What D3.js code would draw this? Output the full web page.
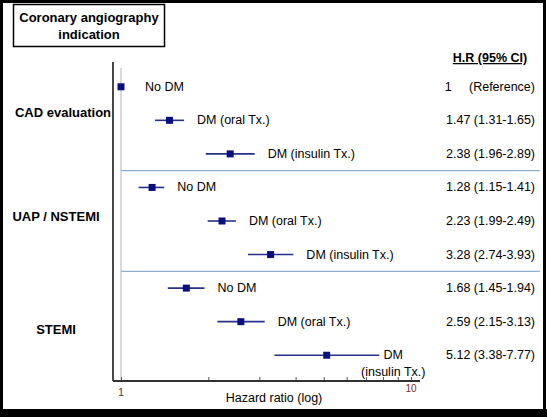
<!DOCTYPE html>
<html>
<head>
<meta charset="utf-8">
<script src="https://cdn.jsdelivr.net/npm/d3@7"></script>
<style>
  body { margin: 0; background: #fff; }
  text { font-family: "Liberation Sans", Arial, sans-serif; }
</style>
</head>
<body>
<svg id="chart" width="547" height="417"></svg>
<script>
// indication groups and the three rows inside each one
const indications = ["CAD evaluation", "UAP / NSTEMI", "STEMI"];
const rowNames = ["No DM", "DM (oral Tx.)", "DM (insulin Tx.)",
  "No DM", "DM (oral Tx.)", "DM (insulin Tx.)",
  "No DM", "DM (oral Tx.)", "DM (insulin Tx.)"];
const hr = [1, 1.47, 2.38, 1.28, 2.23, 3.28, 1.68, 2.59, 5.12];
const ciLow = [1, 1.31, 1.96, 1.15, 1.99, 2.74, 1.45, 2.15, 3.38];
const ciHigh = [1, 1.65, 2.89, 1.41, 2.49, 3.93, 1.94, 3.13, 7.77];
const hrText = ["1     (Reference)", "1.47 (1.31-1.65)", "2.38 (1.96-2.89)",
  "1.28 (1.15-1.41)", "2.23 (1.99-2.49)", "3.28 (2.74-3.93)",
  "1.68 (1.45-1.94)", "2.59 (2.15-3.13)", "5.12 (3.38-7.77)"];
const xTicks = [1, 10];

const svg = d3.select("svg#chart");

// outer frame
svg.append("rect")
    .attr("x", 1.5).attr("y", 1.5)
    .attr("width", 543).attr("height", 410)
    .attr("fill", "none")
    .attr("stroke", "#000")
    .attr("stroke-width", 3);
svg.append("rect")
    .attr("x", 0).attr("y", 409)
    .attr("width", 547).attr("height", 8)
    .attr("fill", "#000");

// title box
svg.append("rect")
    .attr("x", 13.5).attr("y", 4.5)
    .attr("width", 151).attr("height", 42)
    .attr("fill", "#fff")
    .attr("stroke", "#000")
    .attr("stroke-width", 1.5);
svg.append("text")
    .attr("x", 89).attr("y", 22)
    .attr("text-anchor", "middle")
    .attr("font-size", 13).attr("font-weight", "bold")
    .text("Coronary angiography");
svg.append("text")
    .attr("x", 89).attr("y", 39)
    .attr("text-anchor", "middle")
    .attr("font-size", 13).attr("font-weight", "bold")
    .text("indication");

const xScale = d3.scaleLog().domain([1, 10]).range([121, 411]);
const yScale = d3.scaleBand()
    .domain(d3.range(hr.length))
    .range([70, 372]);
const yMid = (i) => yScale(i) + yScale.bandwidth() / 2;

// reference line at HR = 1
svg.append("line")
    .attr("x1", xScale(1)).attr("x2", xScale(1))
    .attr("y1", 68).attr("y2", 381)
    .attr("stroke", "#c8ccd4")
    .attr("stroke-width", 1.5);

// group separators
[3, 6].forEach((i) => {
  svg.append("line")
      .attr("x1", xScale(1)).attr("x2", 540)
      .attr("y1", yScale(i)).attr("y2", yScale(i))
      .attr("stroke", "#8eaed4")
      .attr("stroke-width", 1.2);
});

// axes
svg.append("line")
    .attr("x1", 113).attr("x2", 113)
    .attr("y1", 62).attr("y2", 381)
    .attr("stroke", "#333")
    .attr("stroke-width", 1.8);
svg.append("g")
    .attr("transform", "translate(0,381)")
    .call(d3.axisTop(xScale).tickValues(d3.range(1, 11)).tickSize(4)
        .tickFormat(""))
    .call((g) => g.select(".domain").remove())
    .call((g) => g.selectAll("line").attr("stroke", "#555"));
svg.append("line")
    .attr("x1", 113).attr("x2", 420)
    .attr("y1", 381).attr("y2", 381)
    .attr("stroke", "#333")
    .attr("stroke-width", 1.8);
svg.selectAll(".xlab")
    .data(xTicks)
    .enter().append("text")
    .attr("class", "xlab")
    .attr("x", (d) => xScale(d))
    .attr("y", (d) => d == 1 ? 396 : 392)
    .attr("text-anchor", "middle")
    .attr("font-size", 10)
    .attr("fill", (d) => d == 1 ? "#333" : "#7a2e2e")
    .text((d) => d);
svg.append("text")
    .attr("x", 274).attr("y", 402)
    .attr("text-anchor", "middle")
    .attr("font-size", 12.5)
    .text("Hazard ratio (log)");

// indication labels
const groupY = [yMid(1) - 7, yMid(4) - 4, yMid(7) + 8];
const groupX = [63, 56, 56];
indications.forEach((name, k) => {
  svg.append("text")
      .attr("x", groupX[k]).attr("y", groupY[k] + 4)
      .attr("text-anchor", "middle")
      .attr("font-size", 13).attr("font-weight", "bold")
      .text(name);
});

// confidence intervals and point estimates
const navy = "#0a0f80";
svg.selectAll(".ci")
    .data(hr)
    .enter().append("line")
    .attr("class", "ci")
    .attr("x1", (d, i) => xScale(ciLow[i]))
    .attr("x2", (d, i) => xScale(ciHigh[i]))
    .attr("y1", (d, i) => yMid(i))
    .attr("y2", (d, i) => yMid(i))
    .attr("stroke", "#26318c")
    .attr("stroke-width", 1.6);
svg.selectAll(".pt")
    .data(hr)
    .enter().append("rect")
    .attr("class", "pt")
    .attr("x", (d) => xScale(d) - 3.5)
    .attr("y", (d, i) => yMid(i) - 3.5)
    .attr("width", 7).attr("height", 7)
    .attr("fill", navy);

// row labels
rowNames.forEach((name, i) => {
  if (i == 8) {
    const cx = xScale(ciHigh[i]) + 14;
    svg.append("text")
        .attr("x", cx).attr("y", yMid(i) + 4)
        .attr("text-anchor", "middle")
        .attr("font-size", 12.5)
        .text("DM");
    svg.append("text")
        .attr("x", cx).attr("y", yMid(i) + 21)
        .attr("text-anchor", "middle")
        .attr("font-size", 12.5)
        .text("(insulin Tx.)");
    return;
  }
  const x = i == 0 ? xScale(hr[i]) + 24 : xScale(ciHigh[i]) + 13;
  svg.append("text")
      .attr("x", x).attr("y", yMid(i) + 4)
      .attr("font-size", 12.5)
      .text(name);
});

// hazard ratio column
svg.append("text")
    .attr("x", 490).attr("y", 62)
    .attr("text-anchor", "middle")
    .attr("font-size", 12.5).attr("font-weight", "bold")
    .attr("text-decoration", "underline")
    .text("H.R (95% CI)");
svg.selectAll(".hrtext")
    .data(hrText)
    .enter().append("text")
    .attr("class", "hrtext")
    .attr("x", 535)
    .attr("y", (d, i) => yMid(i) + 4)
    .attr("text-anchor", "end")
    .attr("font-size", 12.5)
    .attr("xml:space", "preserve")
    .style("white-space", "pre")
    .text((d) => d);
</script>
</body>
</html>
